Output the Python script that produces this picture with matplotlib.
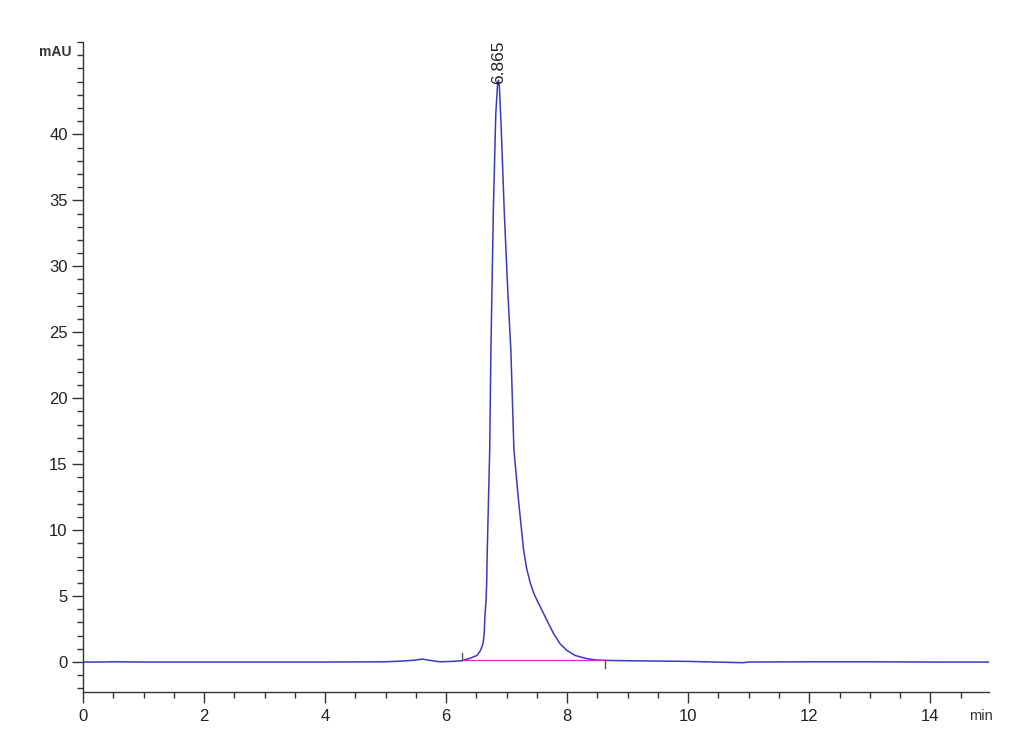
import matplotlib
matplotlib.use("Agg")
import matplotlib.pyplot as plt
from matplotlib.ticker import MultipleLocator

# --- data ---
time_min = [0.0, 0.3, 0.5, 1.0, 2.0, 3.0, 4.0, 5.0, 5.3, 5.5, 5.6, 5.7, 5.9, 6.1, 6.26,
            6.4, 6.51, 6.57, 6.61, 6.63, 6.64, 6.66, 6.67, 6.68, 6.70, 6.72, 6.74, 6.78,
            6.82, 6.85, 6.865, 6.88, 6.91, 6.96, 7.02, 7.07, 7.12, 7.195, 7.28, 7.33,
            7.39, 7.45, 7.50, 7.57, 7.64, 7.77, 7.88, 7.99, 8.13, 8.33, 8.5, 8.7, 9.0,
            10.0, 10.9, 11.0, 12.0, 13.0, 14.0, 14.96]
absorb_mau = [0.0, 0.0, 0.02, 0.0, 0.0, 0.0, 0.0, 0.02, 0.08, 0.15, 0.23, 0.15, 0.02,
              0.05, 0.1, 0.3, 0.5, 0.9, 1.4, 2.2, 3.4, 4.7, 6.0, 8.5, 12.3, 16.1, 23.6,
              34.2, 41.5, 43.8, 44.1, 43.6, 40.5, 34.2, 28.0, 23.6, 16.1, 12.3, 8.5,
              7.1, 6.0, 5.2, 4.7, 4.05, 3.4, 2.2, 1.4, 0.9, 0.5, 0.25, 0.15, 0.12, 0.1,
              0.05, -0.05, 0.0, 0.02, 0.02, 0.0, 0.0]
peak_time = 6.865
peak_height = 44.1
peak_label = "6.865"
baseline_start = (6.26, 0.12)
baseline_end = (8.63, 0.12)
x_ticks = [0, 2, 4, 6, 8, 10, 12, 14]
y_ticks = [0, 5, 10, 15, 20, 25, 30, 35, 40]

plt.rcParams['font.family'] = ['Liberation Sans', 'DejaVu Sans']

fig = plt.figure(figsize=(10.30, 7.55), dpi=100)
ax = fig.add_axes([83/1030, 63/755, (989-83)/1030, (692-42)/755])

ax.plot(time_min, absorb_mau, color='#3a3ac0', lw=1.1)
ax.plot([baseline_start[0], baseline_end[0]], [baseline_start[1], baseline_end[1]],
        color='#cc33cc', lw=0.9)
# integration markers
ax.plot([baseline_start[0]]*2, [baseline_start[1], baseline_start[1] + 0.6], color='#555555', lw=1)
ax.plot([baseline_end[0]]*2, [baseline_end[1], baseline_end[1] - 0.6], color='#555555', lw=1)

ax.text(peak_time, peak_height - 0.3, peak_label, rotation=90, ha='center', va='bottom',
        fontsize=12.5, color='#222222')

ax.set_xlim(0, 14.97)
ax.set_ylim(-2.27, 47.0)
ax.set_xticks(x_ticks)
ax.set_yticks(y_ticks)
ax.xaxis.set_minor_locator(MultipleLocator(0.5))
ax.yaxis.set_minor_locator(MultipleLocator(1))

for s in ['top', 'right']:
    ax.spines[s].set_visible(False)
for s in ['left', 'bottom']:
    ax.spines[s].set_color('#333333')
    ax.spines[s].set_linewidth(1.0)

ax.tick_params(axis='both', which='major', direction='out', length=8, width=1,
               color='#333333', labelsize=12, labelcolor='#222222')
ax.tick_params(axis='both', which='minor', direction='out', length=4, width=1,
               color='#333333')
ax.tick_params(axis='y', which='major', pad=3)
ax.tick_params(axis='x', which='major', pad=4)

fig.text(71/1030, 1 - 52/755, 'mAU', ha='right', va='center', fontsize=10,
         fontweight='bold', color='#333333')
fig.text(981/1030, 1 - 716/755, 'min', ha='center', va='center', fontsize=10.5,
         color='#333333')

fig.savefig('out.png', dpi=100)
